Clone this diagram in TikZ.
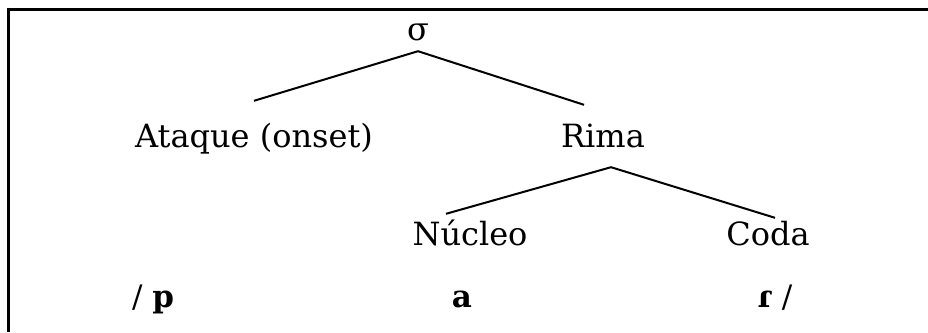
\documentclass[tikz,border=0pt]{standalone}
\usepackage{fontspec}
\setmainfont{DejaVu Serif}
\usepackage{tikz}

\begin{document}
\begin{tikzpicture}[x=1pt,y=-1pt,
  lbl/.style={anchor=base, inner xsep=0pt, inner ysep=5pt, text height=21pt, text depth=6pt, font=\fontsize{32}{38}\selectfont},
  seg/.style={anchor=base, inner sep=0pt, font=\fontsize{31}{36}\selectfont},
  branch/.style={line width=2pt}]
\useasboundingbox (0,0) rectangle (928,332);
\draw[line width=3pt] (7,9) -- (928,9);
\draw[line width=3pt] (8,7.5) -- (8,332);
\node[lbl] (sigma) at (418,40) {σ};
\node[lbl] (ataque) at (254,147) {Ataque (onset)};
\node[lbl] (rima) at (603,147) {Rima};
\node[lbl] (nucleo) at (470,245) {Núcleo};
\node[lbl] (coda) at (768,245) {Coda};
\node[seg] (p) at (153,307) {/ \textbf{p}};
\node[seg] (a) at (462,307) {\textbf{a}};
\node[seg] (r) at (775,307) {\textbf{ɾ} /};
\draw[branch] (sigma.south) -- ([yshift=20pt]ataque.north);
\draw[branch] (sigma.south) -- ([xshift=-19pt,yshift=16pt]rima.north);
\draw[branch] ([xshift=8pt,yshift=-9pt]rima.south) -- ([xshift=-24pt,yshift=5pt]nucleo.north);
\draw[branch] ([xshift=8pt,yshift=-9pt]rima.south) -- ([xshift=7pt,yshift=1pt]coda.north);
\end{tikzpicture}
\end{document}
